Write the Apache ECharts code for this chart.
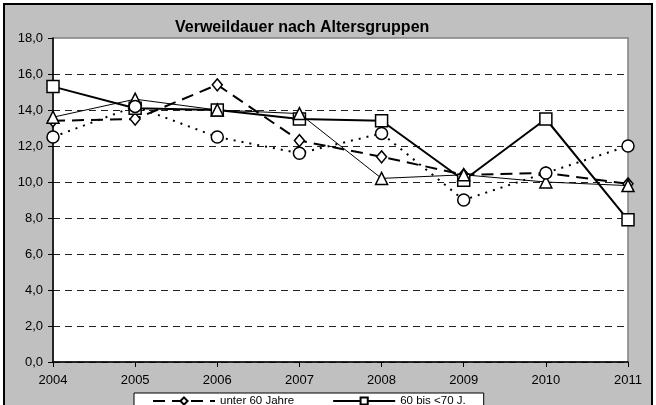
<!DOCTYPE html>
<html>
<head>
<meta charset="utf-8">
<script src="https://cdn.jsdelivr.net/npm/echarts@6/dist/echarts.min.js"></script>
<style>
  html, body { margin: 0; padding: 0; background: #fff; }
  #myChart { width: 656px; height: 405px; }
</style>
</head>
<body>
<div id="myChart"></div>
<script>
  // Kategorien (Jahre)
  let years = ['2004', '2005', '2006', '2007', '2008', '2009', '2010', '2011']
  // Verweildauer je Altersgruppe (Tage)
  let unter60 = [13.4, 13.5, 15.4, 12.3, 11.4, 10.4, 10.5, 9.9]
  let bis70 = [15.3, 14.1, 14.0, 13.5, 13.4, 10.1, 13.5, 7.9]
  let bis80 = [13.6, 14.6, 14.0, 13.8, 10.2, 10.4, 10.0, 9.8]
  let ab80 = [12.5, 14.2, 12.5, 11.6, 12.7, 9.0, 10.5, 12.0]
  let seriesNames = ['unter 60 Jahre', '60 bis <70 J.', '70 bis <80 J.', '80 Jahre und älter']

  let font = "'Liberation Sans', Arial, sans-serif"

  function makeSeries(name, data, symbol, size, lineStyle) {
    return {
      name: name,
      type: 'line',
      data: data,
      symbol: symbol,
      symbolSize: size,
      showAllSymbol: true,
      itemStyle: { color: '#fff', borderColor: '#000', borderWidth: 1.5 },
      lineStyle: Object.assign({ color: '#000' }, lineStyle),
      emphasis: { disabled: true }
    }
  }

  let myChart = echarts.init(document.getElementById('myChart'))
  myChart.setOption({
    animation: false,
    backgroundColor: '#fff',
    textStyle: { fontFamily: font },
    graphic: [
      {
        type: 'rect',
        z: -10,
        shape: { x: 4, y: 4, width: 648, height: 430 },
        style: { fill: '#C0C0C0', stroke: '#000', lineWidth: 2 }
      }
    ],
    title: {
      text: 'Verweildauer nach Altersgruppen',
      left: 170,
      top: 15,
      textStyle: { fontFamily: font, fontSize: 16, fontWeight: 'bold', color: '#000' }
    },
    legend: {
      data: seriesNames,
      left: 134,
      top: 393,
      width: 322,
      padding: [2, 18],
      itemGap: 38,
      itemWidth: 62,
      itemHeight: 9,
      backgroundColor: '#fff',
      borderColor: '#000',
      borderWidth: 1,
      borderRadius: 0,
      textStyle: { fontFamily: font, fontSize: 11.5, color: '#000' }
    },
    grid: {
      left: 53,
      right: 28,
      top: 38,
      bottom: 43,
      show: true,
      backgroundColor: '#fff',
      borderColor: '#808080',
      borderWidth: 1.5
    },
    xAxis: {
      type: 'category',
      data: years,
      boundaryGap: false,
      axisLine: { lineStyle: { color: '#000', width: 1.5 } },
      axisTick: { show: true, length: 5, lineStyle: { color: '#000' } },
      axisLabel: { color: '#000', fontSize: 13, margin: 12, fontFamily: font },
      splitLine: { show: false }
    },
    yAxis: {
      type: 'value',
      min: 0,
      max: 18,
      interval: 2,
      axisLine: { show: true, lineStyle: { color: '#000', width: 1.5 } },
      axisTick: { show: true, length: 5, lineStyle: { color: '#000' } },
      axisLabel: {
        color: '#000',
        fontSize: 13,
        margin: 10,
        fontFamily: font,
        formatter: function (v) { return v.toFixed(1).replace('.', ',') }
      },
      splitLine: {
        show: true,
        lineStyle: {
          color: ['#222', '#222', '#222', '#222', '#222', '#222', '#222', '#222', '#222', 'transparent'],
          type: [7, 5],
          width: 1
        }
      }
    },
    series: [
      makeSeries(seriesNames[0], unter60, 'diamond', [10, 12], { width: 2, type: [12, 7] }),
      makeSeries(seriesNames[1], bis70, 'rect', 12, { width: 2, type: 'solid' }),
      makeSeries(seriesNames[2], bis80, 'triangle', 12, { width: 1, type: 'solid' }),
      makeSeries(seriesNames[3], ab80, 'circle', 12, { width: 2, type: [2, 6] })
    ]
  })
</script>
</body>
</html>
